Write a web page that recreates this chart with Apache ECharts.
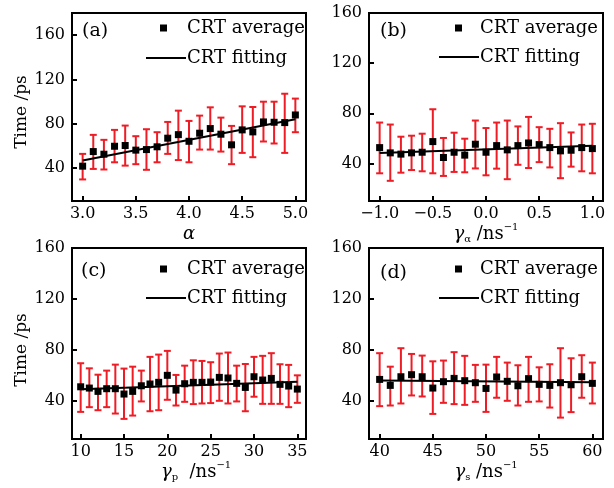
<!DOCTYPE html>
<html>
<head>
<meta charset="utf-8">
<script src="https://cdn.jsdelivr.net/npm/echarts@6/dist/echarts.min.js"></script>
<style>html,body{margin:0;padding:0;background:#fff}#c{width:614px;height:488px}</style>
</head>
<body>
<div id="c"></div>
<script>
// ---- data ----
const aX = [3.0,3.1,3.2,3.3,3.4,3.5,3.6,3.7,3.8,3.9,4.0,4.1,4.2,4.3,4.4,4.5,4.6,4.7,4.8,4.9,5.0];
const aMean = [41.5,54.7,52.3,59.5,60.2,56,56.5,59,66.8,70,64,71.3,75.5,70.4,60.8,74.3,72.5,81.5,81.2,80.9,87.8];
const aHigh = [52.6,69.8,65.3,74.3,78.2,68.6,74.9,72.2,81.5,91.7,82.4,87.2,94.7,85.4,77.9,95.6,95,99.8,99.8,107,102.6];
const aLow  = [29.5,39,38.5,45,42,43.3,38.2,45,52.6,47,45,56.5,56.5,54.7,43.3,53.5,49.6,63.8,62,53.5,72.2];
const aFitX = [3.0,5.0];
const aFit  = [46.6,84.0];

const bX = [-1.0,-0.9,-0.8,-0.7,-0.6,-0.5,-0.4,-0.3,-0.2,-0.1,0.0,0.1,0.2,0.3,0.4,0.5,0.6,0.7,0.8,0.9,1.0];
const bMean = [52.6,48.4,47.4,48.4,48.9,57.4,44.7,48.9,46.6,55.3,48.9,54.2,50.8,54.2,56.3,55,52.6,50,50.5,52.6,51.8];
const bHigh = [72.6,71,61.3,62.1,63.7,83.2,60.3,64.5,59.7,74.2,68.2,72.6,74.2,69.5,77.1,68.9,67.6,72.1,64.7,71,71.6];
const bLow  = [32.1,26.1,32.6,34.7,33.7,32.1,30,33.2,32.9,36,30.5,35.8,27.4,38.9,36.3,41,36.8,28.2,37.4,33.7,32.1];
const bFitX = [-1.0,1.0];
const bFit  = [48.2,54.0];

const cX = [10,11,12,13,14,15,16,17,18,19,20,21,22,23,24,25,26,27,28,29,30,31,32,33,34,35];
const cMean = [51,50,47.4,49.5,49.5,45.3,47.4,51.8,53.2,54.5,60,48.4,53.4,54.5,54.5,54.7,58.4,57.9,53.7,50.5,58.9,56.3,57.6,52.9,51.6,49.2];
const cHigh = [69.5,65.5,60.5,63.7,68.4,65.3,66.8,63.7,74.5,76.3,79.2,60.3,67.6,71.8,71.3,70.3,77.1,77.9,67.6,68.9,74.5,75.3,77.4,68.7,68.2,60];
const cLow  = [31.3,35,32.6,35,30,25.8,28.4,39.5,31.8,32.6,40.8,36.3,39.2,37.4,37.9,38.2,40,37.9,39.5,31.8,43.2,37.6,37.6,37.6,35,38.4];
const cFitX = [10,35];
const cFit  = [49.0,55.0];

const dX = [40,41,42,43,44,45,46,47,48,49,50,51,52,53,54,55,56,57,58,59,60];
const dMean = [56.8,52.1,58.9,60.5,58.9,50,55,57.6,55.8,54.2,49.7,58.7,55.3,51.8,57.4,52.9,52.1,54.2,52.6,58.9,53.7];
const dHigh = [77.4,66.8,81.3,76.8,75.5,71,71.6,78.2,75.3,68.2,68.4,74.5,70,67.9,74.5,66.3,68.7,81.3,73.4,75.8,70];
const dLow  = [35.8,36.3,37.9,44.2,43.4,29.7,38.4,37.4,36.8,39.2,31.3,42.4,40,36.3,39.2,39.5,34.7,26.8,31.1,42.4,37.9];
const dFitX = [40,60];
const dFit  = [56.0,54.6];

const aTicks = [3.0,3.5,4.0,4.5,5.0];
const bTicks = [-1.0,-0.5,0.0,0.5,1.0];
const cTicks = [10,15,20,25,30,35];
const dTicks = [40,45,50,55,60];
const yTicks = [40,80,120,160];

const panelLabels = ['(a)','(b)','(c)','(d)'];
const yTitle = 'Time /ps';
const avgName = 'CRT average';
const fitName = 'CRT fitting';

// ---- chart ----
const FONT = 'DejaVu Serif';
const RED = '#ee1c25';
const chart = echarts.init(document.getElementById('c'), null, {renderer: 'canvas'});

const panels = [
  {x:aX, m:aMean, hi:aHigh, lo:aLow, fx:aFitX, fy:aFit, ticks:aTicks, xmin:2.9, xmax:5.1, ymax:180, dec:1,
   grid:{left:72, top:13, width:234, height:188}, xname:'{i|α}', nameGap:22, namePad:[0,0,0,0], yname:true, yPad:[0,10,0,0],
   lab:[82,22], avg:[160,19,15], fit:[146,49]},
  {x:bX, m:bMean, hi:bHigh, lo:bLow, fx:bFitX, fy:bFit, ticks:bTicks, xmin:-1.1, xmax:1.1, ymax:160, dec:1,
   grid:{left:369, top:13, width:234, height:188}, xname:'{g|γ}{s|α}{n| /ns}{p|−1}', nameGap:17, namePad:[0,0,0,0], yname:false,
   lab:[380,22], avg:[455,19,13], fit:[439,48]},
  {x:cX, m:cMean, hi:cHigh, lo:cLow, fx:cFitX, fy:cFit, ticks:cTicks, xmin:9, xmax:36, ymax:160, dec:0,
   grid:{left:72, top:248, width:234, height:191}, xname:'{g|γ}{s|p}{n|  /ns}{p|−1}', nameGap:20, namePad:[0,0,0,14], yname:true, yPad:[0,13,0,0],
   lab:[81,262], avg:[160,260,15], fit:[146,289]},
  {x:dX, m:dMean, hi:dHigh, lo:dLow, fx:dFitX, fy:dFit, ticks:dTicks, xmin:39, xmax:61, ymax:160, dec:0,
   grid:{left:369, top:248, width:234, height:191}, xname:'{g|γ}{s|s}{n| /ns}{p|−1}', nameGap:20, namePad:[0,0,0,0], yname:false,
   lab:[380,264], avg:[455,260,13], fit:[439,289]}
];

const rich = {
  i:{fontFamily:FONT, fontSize:18, fontStyle:'italic', color:'#000', lineHeight:22},
  g:{fontFamily:FONT, fontSize:18, fontStyle:'italic', color:'#000', lineHeight:22},
  s:{fontFamily:FONT, fontSize:10, color:'#000', lineHeight:12, verticalAlign:'bottom'},
  n:{fontFamily:FONT, fontSize:18, color:'#000', lineHeight:22},
  p:{fontFamily:FONT, fontSize:10, color:'#000', lineHeight:10, verticalAlign:'top'}
};

const grids = [], xAxes = [], yAxes = [], series = [], legends = [], titles = [];
panels.forEach((p, k) => {
  grids.push(Object.assign({show:true, borderColor:'#000', borderWidth:2, backgroundColor:'transparent', outerBoundsMode:'none', containLabel:false}, p.grid));
  xAxes.push({
    type:'value', gridIndex:k, min:p.xmin, max:p.xmax,
    name:p.xname, nameLocation:'middle', nameGap:p.nameGap,
    nameTextStyle:{rich:rich, padding:p.namePad},
    axisLine:{show:true, onZero:false, lineStyle:{color:'#000', width:2}},
    axisTick:{show:true, inside:true, length:5, customValues:p.ticks, lineStyle:{color:'#000', width:2}},
    axisLabel:{show:true, customValues:p.ticks, margin:5, color:'#000', fontFamily:FONT, fontSize:16,
      formatter:v => v.toFixed(p.dec).replace('-', '−')},
    splitLine:{show:false}, minorTick:{show:false}
  });
  yAxes.push({
    type:'value', gridIndex:k, min:10, max:p.ymax,
    name:p.yname ? yTitle : '', nameLocation:'middle', nameGap:42, nameRotate:90,
    nameTextStyle:{color:'#000', fontFamily:FONT, fontSize:17, padding:p.yPad || [0,0,0,0]},
    axisLine:{show:true, onZero:false, lineStyle:{color:'#000', width:2}},
    axisTick:{show:true, inside:true, length:5, customValues:yTicks, lineStyle:{color:'#000', width:2}},
    axisLabel:{show:true, customValues:yTicks, margin:7, color:'#000', fontFamily:FONT, fontSize:16},
    splitLine:{show:false}
  });
  const errData = p.x.map((xv, i) => [xv, p.lo[i], p.hi[i]]);
  series.push({
    type:'custom', name:'err' + k, xAxisIndex:k, yAxisIndex:k, z:2,
    data:errData, encode:{x:0, y:[1,2]},
    renderItem:(params, api) => {
      const xv = api.value(0);
      const t = api.coord([xv, api.value(2)]);
      const b = api.coord([xv, api.value(1)]);
      const w = 3.5;
      const st = {stroke:RED, lineWidth:2};
      return {type:'group', children:[
        {type:'line', shape:{x1:t[0], y1:t[1], x2:b[0], y2:b[1]}, style:st},
        {type:'line', shape:{x1:t[0]-w, y1:t[1], x2:t[0]+w, y2:t[1]}, style:st},
        {type:'line', shape:{x1:b[0]-w, y1:b[1], x2:b[0]+w, y2:b[1]}, style:st}
      ]};
    }
  });
  series.push({
    type:'line', name:fitName, xAxisIndex:k, yAxisIndex:k, z:3,
    data:p.fx.map((xv, i) => [xv, p.fy[i]]),
    showSymbol:false, symbol:'none', lineStyle:{color:'#000', width:2}, itemStyle:{color:'#000', opacity:1}
  });
  series.push({
    type:'scatter', name:avgName, xAxisIndex:k, yAxisIndex:k, z:4,
    data:p.x.map((xv, i) => [xv, p.m[i]]),
    symbol:'rect', symbolSize:7, itemStyle:{color:'#000', opacity:1}
  });
  legends.push({
    data:[{name:avgName, icon:'rect'}], left:p.avg[0], top:p.avg[1], padding:0,
    itemWidth:7, itemHeight:7, selectedMode:false,
    itemStyle:{color:'#000', opacity:1},
    textStyle:{color:'#000', fontFamily:FONT, fontSize:18, padding:[0,0,0,p.avg[2]]}
  });
  legends.push({
    data:[{name:fitName, icon:'rect'}], left:p.fit[0], top:p.fit[1], padding:0,
    itemWidth:40, itemHeight:2, selectedMode:false,
    textStyle:{color:'#000', fontFamily:FONT, fontSize:18, padding:[0,0,0,-4]}
  });
  titles.push({
    text:panelLabels[k], left:p.lab[0], top:p.lab[1], padding:0,
    textStyle:{color:'#000', fontFamily:FONT, fontSize:19, fontWeight:'normal'}
  });
});

chart.setOption({
  animation:false,
  backgroundColor:'#fff',
  title:titles,
  legend:legends,
  grid:grids,
  xAxis:xAxes,
  yAxis:yAxes,
  series:series
});
</script>
</body>
</html>
